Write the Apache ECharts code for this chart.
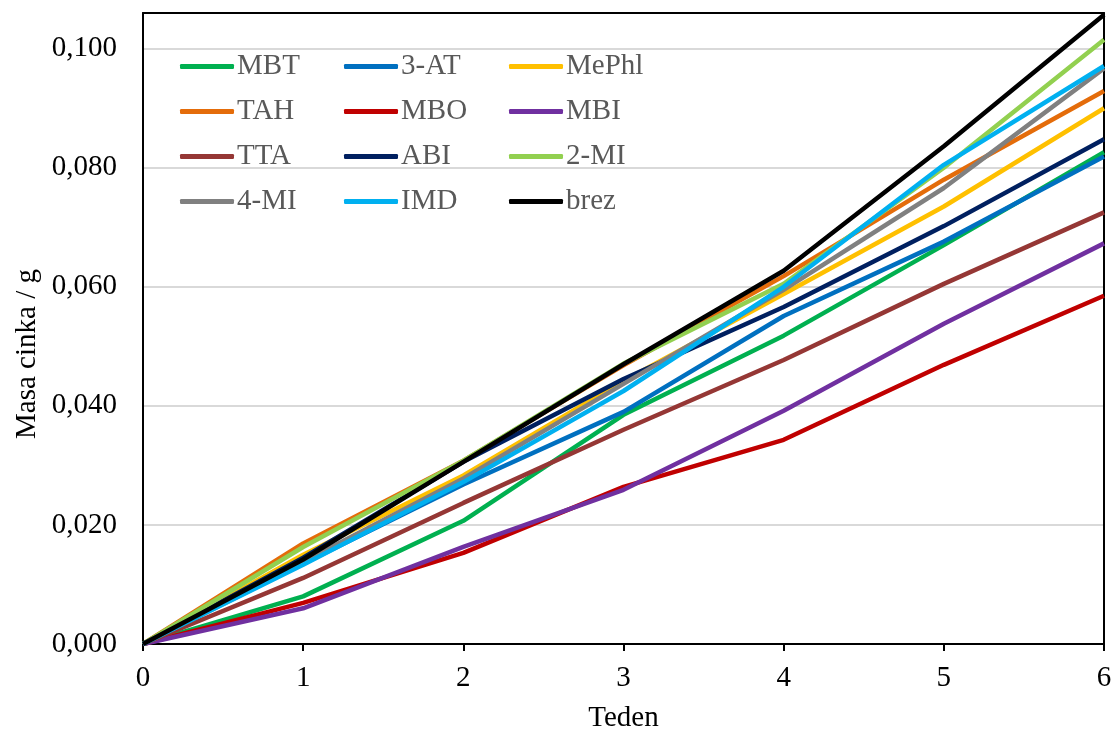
<!DOCTYPE html>
<html>
<head>
<meta charset="utf-8">
<script src="https://cdn.jsdelivr.net/npm/echarts@6/dist/echarts.min.js"></script>
<style>
  html, body { margin: 0; padding: 0; background: #fff; }
  #chart { width: 1116px; height: 729px; }
</style>
</head>
<body>
<div id="chart"></div>
<script>
// tedni
var weeks = [0, 1, 2, 3, 4, 5, 6];

// masa cinka (g) po tednih
var mbt   = [0, 0.0080, 0.0207, 0.0385, 0.0518, 0.0670, 0.0826];
var at3   = [0, 0.0135, 0.0268, 0.0390, 0.0551, 0.0676, 0.0819];
var mephl = [0, 0.0150, 0.0283, 0.0442, 0.0588, 0.0735, 0.0900];
var tah   = [0, 0.0169, 0.0308, 0.0468, 0.0618, 0.0780, 0.0929];
var mbo   = [0, 0.0069, 0.0153, 0.0264, 0.0343, 0.0469, 0.0585];
var mbi   = [0, 0.0060, 0.0163, 0.0259, 0.0392, 0.0538, 0.0673];
var tta   = [0, 0.0111, 0.0237, 0.0360, 0.0477, 0.0605, 0.0725];
var abi   = [0, 0.0145, 0.0306, 0.0445, 0.0566, 0.0702, 0.0848];
var mi2   = [0, 0.0163, 0.0308, 0.0471, 0.0605, 0.0800, 0.1015];
var mi4   = [0, 0.0138, 0.0278, 0.0437, 0.0595, 0.0766, 0.0967];
var imd   = [0, 0.0133, 0.0272, 0.0425, 0.0600, 0.0805, 0.0971];
var brez  = [0, 0.0142, 0.0306, 0.0470, 0.0627, 0.0836, 0.1057];

var names  = ['MBT', '3-AT', 'MePhl', 'TAH', 'MBO', 'MBI', 'TTA', 'ABI', '2-MI', '4-MI', 'IMD', 'brez'];
var values = [mbt, at3, mephl, tah, mbo, mbi, tta, abi, mi2, mi4, imd, brez];
var colors = ['#00B050', '#0070C0', '#FFC000', '#E46C0A', '#C00000', '#7030A0',
              '#953735', '#002060', '#92D050', '#808080', '#00B0F0', '#000000'];

var font = 'Liberation Serif';
var fs = 29;

// legenda v treh stolpcih
var cols = [
  ['MBT', 'TAH', 'TTA', '4-MI'],
  ['3-AT', 'MBO', 'ABI', 'IMD'],
  ['MePhl', 'MBI', '2-MI', 'brez']
];
var colLeft = [180, 344, 509];
var legends = cols.map(function(c, i) {
  return {
    orient: 'vertical',
    left: colLeft[i],
    top: 52,
    padding: 0,
    itemGap: 16,
    itemWidth: 54,
    itemHeight: 5,
    icon: 'roundRect',
    data: c,
    textStyle: { fontFamily: font, fontSize: fs, color: '#595959', lineHeight: 29, padding: [0, 0, 0, -2] }
  };
});

var series = names.map(function(n, i) {
  return {
    name: n,
    type: 'line',
    data: weeks.map(function(w, j) { return [w, values[i][j]]; }),
    symbol: 'none',
    color: colors[i],
    lineStyle: { width: 4.5, color: colors[i] }
  };
});

var chart = echarts.init(document.getElementById('chart'));
chart.setOption({
  backgroundColor: '#fff',
  animation: false,
  grid: { left: 143, right: 12, top: 13, bottom: 85, outerBoundsMode: 'none', containLabel: false },
  legend: legends,
  graphic: [{
    type: 'text',
    x: 27, y: 354,
    rotation: Math.PI / 2,
    style: { text: 'Masa cinka / g', font: fs + 'px "' + font + '"', fill: '#000', align: 'center', verticalAlign: 'middle' }
  }],
  xAxis: [{
    type: 'value',
    min: 0, max: 6, interval: 1,
    name: 'Teden',
    nameLocation: 'middle',
    nameGap: 60,
    nameTextStyle: { fontFamily: font, fontSize: fs, color: '#000' },
    axisLine: { onZero: false, lineStyle: { color: '#000', width: 2 } },
    axisTick: { show: true, length: 7, lineStyle: { color: '#000', width: 2 } },
    axisLabel: { fontFamily: font, fontSize: fs, color: '#000', margin: 20 },
    splitLine: { show: false }
  }, {
    // zgornji rob okvirja
    type: 'value', position: 'top', min: 0, max: 6,
    axisLine: { show: true, onZero: false, lineStyle: { color: '#000', width: 2 } },
    axisTick: { show: false }, axisLabel: { show: false }, splitLine: { show: false }
  }],
  yAxis: [{
    type: 'value',
    min: 0, max: 0.106, interval: 0.02,
    axisLine: { show: true, onZero: false, lineStyle: { color: '#000', width: 2 } },
    axisTick: { show: false },
    axisLabel: {
      fontFamily: font, fontSize: fs, color: '#000', margin: 26, showMaxLabel: false,
      formatter: function(v) { return v.toFixed(3).replace('.', ','); }
    },
    splitLine: { lineStyle: { color: '#D9D9D9', width: 2 } }
  }, {
    // desni rob okvirja
    type: 'value', position: 'right', min: 0, max: 0.106,
    axisLine: { show: true, onZero: false, lineStyle: { color: '#000', width: 2 } },
    axisTick: { show: false }, axisLabel: { show: false }, splitLine: { show: false }
  }],
  series: series
});
</script>
</body>
</html>
